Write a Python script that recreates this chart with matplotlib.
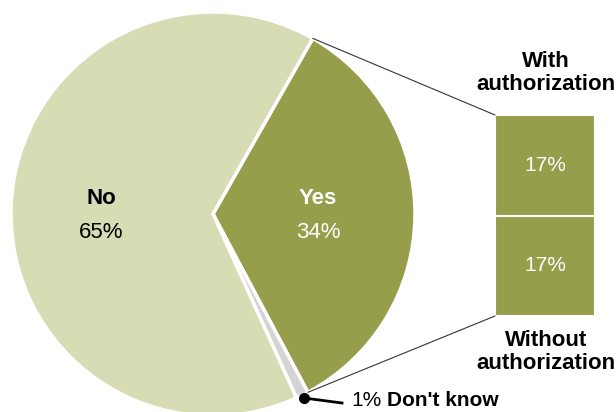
import numpy as np
import matplotlib.pyplot as plt
from matplotlib.patches import ConnectionPatch

# data
pie_labels = ["Yes", "Don't know", "No"]
pie_values = [34, 1, 65]
bar_labels = ["With\nauthorization", "Without\nauthorization"]
bar_values = [17, 17]

c_no = "#d7dcb4"
c_yes = "#969e4b"
c_dk = "#d4d4d4"

plt.rcParams['font.family'] = ['Liberation Sans Narrow', 'Liberation Sans', 'DejaVu Sans']

W, H = 616, 412
fig = plt.figure(figsize=(W / 100, H / 100), dpi=100)
ax = fig.add_axes([0, 0, 1, 1])
ax.set_xlim(0, W)
ax.set_ylim(0, H)
ax.set_aspect('equal')
ax.axis('off')

cx, cy, r = 213, H - 214, 202
start = 60.4
wedges, _ = ax.pie(pie_values, colors=[c_yes, c_dk, c_no], center=(cx, cy), radius=r,
                   startangle=start, counterclock=False,
                   wedgeprops=dict(edgecolor='white', linewidth=2.5))
ax.set_xlim(0, W)
ax.set_ylim(0, H)

# labels on slices
ax.text(101, H - 198, pie_labels[2], ha='center', va='center', fontsize=16, fontweight='bold', color='black')
ax.text(101, H - 232, f"{pie_values[2]}%", ha='center', va='center', fontsize=16, color='black')
ax.text(318, H - 198, pie_labels[0], ha='center', va='center', fontsize=16, fontweight='bold', color='white')
ax.text(318, H - 232, f"{pie_values[0]}%", ha='center', va='center', fontsize=16, color='white')

# don't know callout
end_yes = np.deg2rad(start - 360 * pie_values[0] / 100)
mid_dk = np.deg2rad(start - 360 * (pie_values[0] + pie_values[1] / 2) / 100)
dx, dy = cx + (r + 3) * np.cos(mid_dk), cy + (r + 3) * np.sin(mid_dk)
ax.plot([dx, 342], [dy, H - 403], color='black', lw=2)
ax.plot(dx, dy, 'o', color='black', ms=7)
ax.text(351, H - 401, f"{pie_values[1]}%", ha='left', va='center', fontsize=15)
ax.text(387, H - 401, pie_labels[1], ha='left', va='center', fontsize=15, fontweight='bold')

# stacked bar
bx = fig.add_axes([495 / W, 1 - 316 / H, 100 / W, 201 / H])
bottom = 0
for i, v in enumerate(bar_values[::-1]):
    bx.bar(0, v, bottom=bottom, width=1, color=c_yes, edgecolor='white', linewidth=1.5)
    bx.text(0, bottom + v / 2, f"{v}%", ha='center', va='center', color='white', fontsize=15)
    bottom += v
bx.set_xlim(-0.5, 0.5)
bx.set_ylim(0, sum(bar_values))
bx.axis('off')

ax.text(546, H - 73, bar_labels[0], ha='center', va='center', fontsize=16, fontweight='bold',
        linespacing=1.1)
ax.text(546, H - 352, bar_labels[1], ha='center', va='center', fontsize=16, fontweight='bold',
        linespacing=1.1)

# connectors
t0 = np.deg2rad(start)
for ang, yb in [(t0, sum(bar_values)), (end_yes, 0)]:
    p = (cx + r * np.cos(ang), cy + r * np.sin(ang))
    con = ConnectionPatch(xyA=p, coordsA=ax.transData, xyB=(-0.5, yb), coordsB=bx.transData,
                          color='#333333', lw=0.8)
    fig.add_artist(con)

fig.savefig("out.png", dpi=100)
